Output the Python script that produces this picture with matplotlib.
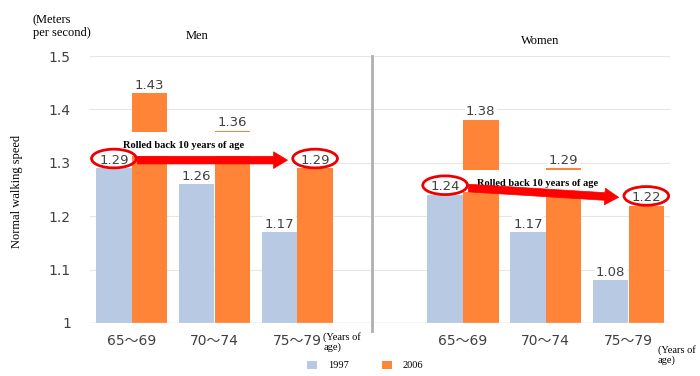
import matplotlib
matplotlib.use("Agg")
import matplotlib.pyplot as plt
from matplotlib.patches import Ellipse, Rectangle
import numpy as np

plt.rcParams['font.family'] = ['DejaVu Sans', 'Noto Sans CJK JP']

categories = ["65～69", "70～74", "75～79"]
men_1997 = [1.29, 1.26, 1.17]
men_2006 = [1.43, 1.36, 1.29]
women_1997 = [1.24, 1.17, 1.08]
women_2006 = [1.38, 1.29, 1.22]
yticks = [1, 1.1, 1.2, 1.3, 1.4, 1.5]
series_names = ["1997", "2006"]

c97 = '#b7c9e3'
c06 = '#ff8438'
serif = ['Liberation Serif', 'DejaVu Serif']

fig = plt.figure(figsize=(7, 3.76), dpi=100)
ax = fig.add_axes([0.129, 0.141, 0.828, 0.71])

men_x = np.arange(3)
women_x = np.arange(3) + 4
x = np.concatenate([men_x, women_x])
v97 = men_1997 + women_1997
v06 = men_2006 + women_2006
w = 0.43

b1 = ax.bar(x - w/2, np.array(v97) - 1, w, bottom=1, color=c97, label=series_names[0], zorder=2)
b2 = ax.bar(x + w/2, np.array(v06) - 1, w, bottom=1, color=c06, label=series_names[1], zorder=2)

ax.set_xlim(-0.5, 6.5)
ax.set_ylim(1, 1.5)
ax.set_yticks(yticks)
ax.set_yticklabels([f"{t:g}" for t in yticks], fontsize=10, color='#404040')
ax.set_xticks(x)
ax.set_xticklabels(categories * 2, fontsize=10, color='#404040',
                   family=['DejaVu Sans', 'Noto Sans CJK JP'])
ax.tick_params(axis='y', length=0, pad=14)
ax.tick_params(axis='x', length=0, pad=8)
for s in ax.spines.values():
    s.set_visible(False)
ax.grid(axis='y', color='#e6e6e6', lw=0.8, zorder=0)
ax.axhline(1, color='#d9d9d9', lw=1, zorder=3)

# divider
ax.plot([2.9, 2.9], [1.0 - 0.015, 1.5], color='#b0b0b0', lw=2, clip_on=False, zorder=3)

def label_bars(xs, vals, dx):
    for xi, v in zip(xs, vals):
        ax.text(xi + dx, v + 0.003, f"{v:.2f}", ha='center', va='bottom', fontsize=9.5,
                color='#404040', zorder=6,
                bbox=dict(boxstyle='square,pad=0.1', fc='white', ec='none'))

# Annotation boxes
ax.add_patch(Rectangle((0 + 0.0, 1.312), 1.45, 0.045, fc='white', ec='none', zorder=4))
ax.add_patch(Rectangle((4 + 0.0, 1.245), 1.65, 0.042, fc='white', ec='none', zorder=4))

label_bars(x, v97, -w/2)
label_bars(x, v06, w/2)

ax.text(0.63, 1.333, "Rolled back 10 years of age", ha='center', va='center', fontsize=7.5,
        fontweight='bold', family=serif, zorder=7)
ax.text(4.9, 1.262, "Rolled back 10 years of age", ha='center', va='center', fontsize=7.5,
        fontweight='bold', family=serif, zorder=7)

def circ(xc, v):
    ax.add_patch(Ellipse((xc, v + 0.018), 0.54, 0.035, fc='none', ec='#ee0000', lw=2, zorder=8))

circ(0 - w/2, men_1997[0])
circ(2 + w/2, men_2006[2])
circ(4 - w/2, women_1997[0])
circ(6 + w/2, women_2006[2])

arrow = dict(arrowstyle='simple,head_width=1.2,head_length=1.0,tail_width=0.55',
             fc='#ff0000', ec='#ff0000', lw=0.5)
ax.annotate('', xy=(2 + w/2 - 0.3, men_2006[2] + 0.015), xytext=(0 - w/2 + 0.25, men_1997[0] + 0.015),
            arrowprops=arrow, zorder=9)
ax.annotate('', xy=(6 + w/2 - 0.3, women_2006[2] + 0.015), xytext=(4 - w/2 + 0.25, women_1997[0] + 0.013),
            arrowprops=arrow, zorder=9)

fig.text(0.282, 0.905, "Men", fontsize=9, family=serif, ha='center', va='center')
fig.text(0.772, 0.89, "Women", fontsize=9, family=serif, ha='center', va='center')
fig.text(0.047, 0.93, "(Meters\nper second)", fontsize=9, family=serif, ha='left', va='center',
         linespacing=1.05)
fig.text(0.025, 0.49, "Normal walking speed", fontsize=9, family=serif, rotation=90,
         ha='center', va='center')
fig.text(0.462, 0.09, "(Years of\nage)", fontsize=7.5, family=serif, ha='left', va='center',
         linespacing=1.0)
fig.text(0.94, 0.055, "(Years of\nage)", fontsize=7.5, family=serif, ha='left', va='center',
         linespacing=1.0)

leg = fig.legend(handles=[b1, b2], labels=series_names, loc='center', bbox_to_anchor=(0.522, 0.028),
                 ncol=2, frameon=False, prop={'family': serif, 'size': 7.5},
                 handlelength=0.9, handleheight=0.9, columnspacing=3.2, handletextpad=1.1)

fig.savefig("out.png", dpi=100)
